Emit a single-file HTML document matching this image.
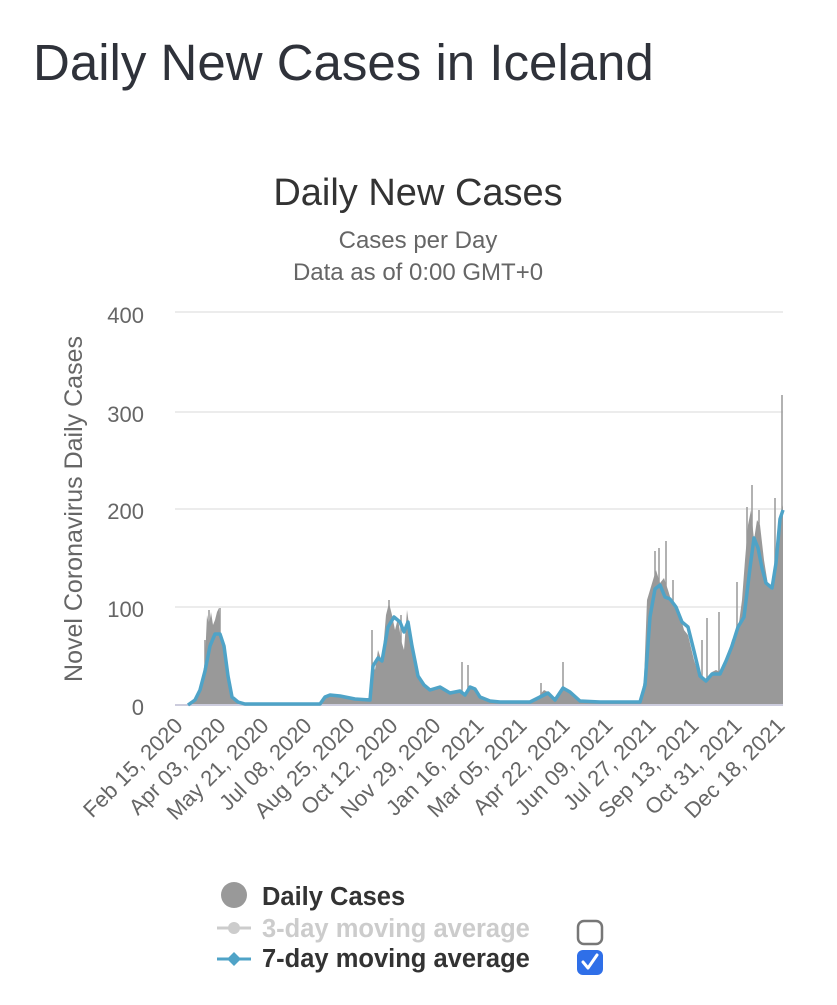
<!DOCTYPE html>
<html><head><meta charset="utf-8"><style>
html,body{margin:0;padding:0;background:#fff;}
body{width:837px;height:1000px;overflow:hidden;font-family:"Liberation Sans",sans-serif;}
</style></head><body>
<svg width="837" height="1000" xmlns="http://www.w3.org/2000/svg" font-family="Liberation Sans, sans-serif">
<text x="33" y="80" font-size="51" fill="#2f323a">Daily New Cases in Iceland</text>
<text x="418" y="205" font-size="38" fill="#333" text-anchor="middle">Daily New Cases</text>
<text x="418" y="248" font-size="24" fill="#666" text-anchor="middle">Cases per Day</text>
<text x="418" y="280" font-size="24" fill="#666" text-anchor="middle">Data as of 0:00 GMT+0</text>
<g stroke="#e6e6e6" stroke-width="1.5">
<line x1="175" y1="312" x2="783" y2="312"/><line x1="175" y1="412" x2="783" y2="412"/><line x1="175" y1="509" x2="783" y2="509"/><line x1="175" y1="607" x2="783" y2="607"/>
</g>
<g font-size="22" fill="#666" text-anchor="end">
<text x="144" y="323">400</text><text x="144" y="422">300</text><text x="144" y="519">200</text><text x="144" y="617">100</text><text x="144" y="715">0</text>
</g>
<text transform="translate(82,509) rotate(-90)" font-size="25" fill="#666" text-anchor="middle">Novel Coronavirus Daily Cases</text>
<polygon fill="#999" points="188,705 195,699 200,688 203,675 205,660 207,615 209,625 211,612 213,625 215,620 217,612 219,608 221,640 224,650 228,670 232,695 238,702 245,704 320,704 323,697 330,694 340,696 355,698 370,698 372,660 375,670 378,650 382,662 386,615 389,603 392,615 395,630 398,618 401,640 404,650 407,610 410,632 414,660 418,678 424,686 430,690 440,688 450,693 460,691 465,695 470,686 475,688 480,697 490,701 500,702 530,702 538,697 544,690 548,692 555,700 563,687 570,692 580,701 600,702 640,702 644,680 647,600 650,590 653,580 656,570 660,583 664,578 668,590 672,603 676,610 680,615 684,630 688,635 694,660 700,678 706,682 712,672 716,670 720,672 726,660 732,640 738,630 742,600 745,560 748,525 751,510 754,540 757,520 760,525 764,560 768,585 772,590 776,560 780,520 783,505 783,705"/>
<g stroke="#999" stroke-width="1.5">
<line x1="205" y1="705" x2="205" y2="640"/><line x1="209" y1="705" x2="209" y2="610"/><line x1="220" y1="705" x2="220" y2="608"/><line x1="372" y1="705" x2="372" y2="630"/><line x1="389" y1="705" x2="389" y2="600"/><line x1="401" y1="705" x2="401" y2="615"/><line x1="462" y1="705" x2="462" y2="662"/><line x1="468" y1="705" x2="468" y2="665"/><line x1="563" y1="705" x2="563" y2="662"/><line x1="541" y1="705" x2="541" y2="683"/><line x1="655" y1="705" x2="655" y2="551"/><line x1="659" y1="705" x2="659" y2="548"/><line x1="666" y1="705" x2="666" y2="541"/><line x1="673" y1="705" x2="673" y2="580"/><line x1="702" y1="705" x2="702" y2="640"/><line x1="707" y1="705" x2="707" y2="618"/><line x1="719" y1="705" x2="719" y2="612"/><line x1="737" y1="705" x2="737" y2="582"/><line x1="747" y1="705" x2="747" y2="507"/><line x1="752" y1="705" x2="752" y2="485"/><line x1="759" y1="705" x2="759" y2="510"/><line x1="775" y1="705" x2="775" y2="498"/><line x1="782" y1="705" x2="782" y2="395"/>
</g>
<line x1="175" y1="705" x2="783" y2="705" stroke="#ccd" stroke-width="2"/>
<polyline fill="none" stroke="#4fa3c7" stroke-width="3.5" stroke-linejoin="round" points="188,705 195,700 200,690 205,671 210,646 215,634 220,634 224,646 228,676 232,697 238,702 245,704 320,704 325,697 330,695 340,696 355,699 370,700 373,666 378,658 382,661 388,627 394,617 400,622 404,632 408,622 412,646 418,676 424,685 430,690 440,687 450,693 460,691 465,695 470,687 475,689 480,697 490,701 500,702 530,702 540,697 548,693 555,700 563,688 570,692 580,701 600,702 640,702 645,685 650,617 655,589 660,585 665,597 670,599 676,607 682,622 688,627 694,651 700,676 706,681 712,674 720,674 726,661 732,646 738,627 744,617 750,568 754,538 758,548 762,568 766,583 772,588 776,563 780,519 783,510"/>
<g font-size="22" fill="#666" text-anchor="end">
<text transform="translate(184,727) rotate(-45)">Feb 15, 2020</text>
<text transform="translate(227,727) rotate(-45)">Apr 03, 2020</text>
<text transform="translate(270,727) rotate(-45)">May 21, 2020</text>
<text transform="translate(313,727) rotate(-45)">Jul 08, 2020</text>
<text transform="translate(356,727) rotate(-45)">Aug 25, 2020</text>
<text transform="translate(399,727) rotate(-45)">Oct 12, 2020</text>
<text transform="translate(442,727) rotate(-45)">Nov 29, 2020</text>
<text transform="translate(485,727) rotate(-45)">Jan 16, 2021</text>
<text transform="translate(528,727) rotate(-45)">Mar 05, 2021</text>
<text transform="translate(571,727) rotate(-45)">Apr 22, 2021</text>
<text transform="translate(614,727) rotate(-45)">Jun 09, 2021</text>
<text transform="translate(657,727) rotate(-45)">Jul 27, 2021</text>
<text transform="translate(700,727) rotate(-45)">Sep 13, 2021</text>
<text transform="translate(743,727) rotate(-45)">Oct 31, 2021</text>
<text transform="translate(786,727) rotate(-45)">Dec 18, 2021</text>
</g>
<circle cx="234" cy="895" r="13" fill="#999"/>
<text x="262" y="905" font-size="25.5" font-weight="bold" fill="#333">Daily Cases</text>
<line x1="217" y1="928" x2="251" y2="928" stroke="#ccc" stroke-width="3"/><circle cx="234" cy="928" r="6" fill="#ccc"/>
<text x="262" y="937" font-size="25.5" font-weight="bold" fill="#ccc">3-day moving average</text>
<line x1="217" y1="959" x2="251" y2="959" stroke="#4fa3c7" stroke-width="3"/><polygon points="234,952 241,959 234,966 227,959" fill="#4fa3c7"/>
<text x="262" y="967" font-size="25.5" font-weight="bold" fill="#333">7-day moving average</text>
<rect x="578" y="921" width="24" height="23" rx="6" fill="#fff" stroke="#777" stroke-width="2.5"/>
<rect x="577" y="950" width="26" height="25" rx="6" fill="#2f6fe8"/>
<polyline points="583,962 588,968 597,955" fill="none" stroke="#fff" stroke-width="3" stroke-linecap="round" stroke-linejoin="round"/>
</svg>
</body></html>
